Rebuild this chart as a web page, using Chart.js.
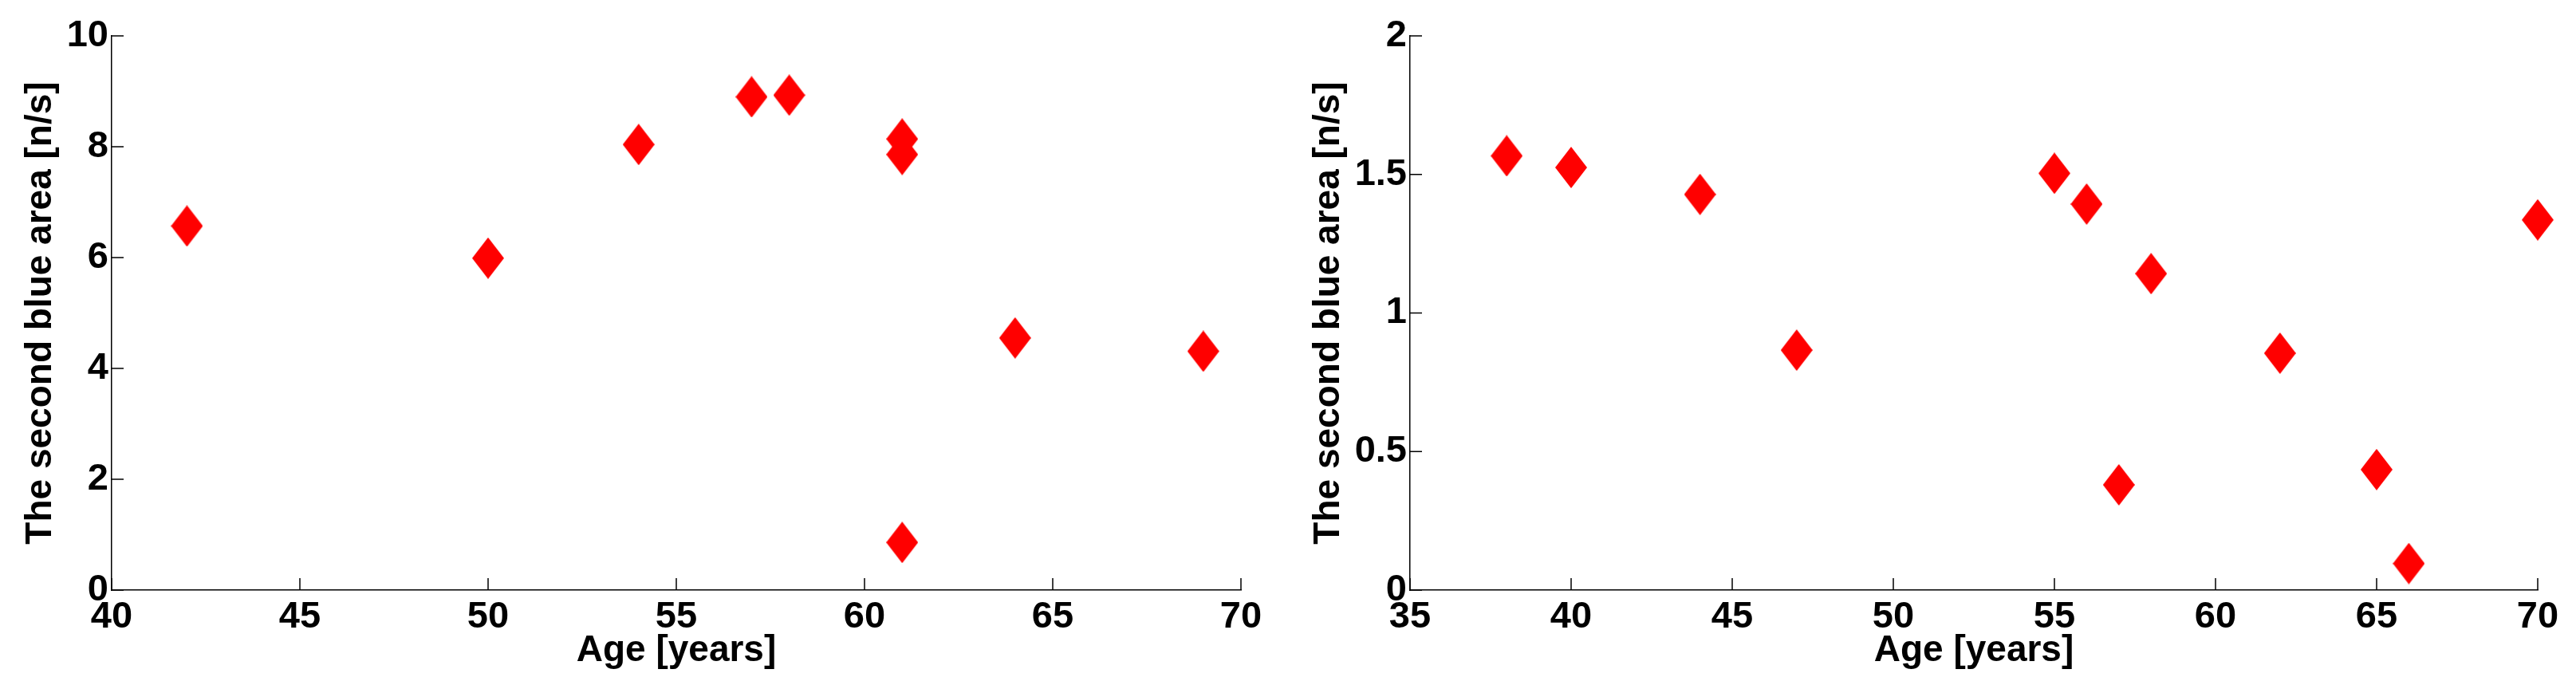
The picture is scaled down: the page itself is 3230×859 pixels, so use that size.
<!DOCTYPE html>
<html>
<head>
<meta charset="utf-8">
<script src="https://cdn.jsdelivr.net/npm/chart.js@4/dist/chart.umd.min.js"></script>
<style>
  html, body { margin: 0; padding: 0; background: #ffffff; }
  #wrap { position: relative; width: 3230px; height: 859px; background: #ffffff; }
  canvas { position: absolute; top: 0; }
</style>
</head>
<body>
<div id="wrap">
  <canvas id="left" width="1615" height="859" style="left:0px"></canvas>
  <canvas id="right" width="1615" height="859" style="left:1615px"></canvas>
</div>
<script>
// ---- data ----
const leftAges   = [42, 50, 54, 57, 58, 61, 61, 61, 64, 69];
const leftValues = [6.57, 5.99, 8.04, 8.90, 8.93, 8.14, 7.86, 0.86, 4.55, 4.31];

const rightAges   = [38, 40, 44, 47, 55, 56, 57, 58, 62, 65, 66, 70];
const rightValues = [1.567, 1.525, 1.428, 0.866, 1.504, 1.393, 0.38, 1.142, 0.855, 0.435, 0.096, 1.336];

const leftXTicks  = [40, 45, 50, 55, 60, 65, 70];
const leftYTicks  = [0, 2, 4, 6, 8, 10];
const rightXTicks = [35, 40, 45, 50, 55, 60, 65, 70];
const rightYTicks = [0, 0.5, 1, 1.5, 2];

const xTitle = 'Age [years]';
const yTitle = 'The second blue area [n/s]';

// ---- styles ----
const FONT = "'Liberation Sans', Arial, Helvetica, sans-serif";

function diamond() {
  const c = document.createElement('canvas');
  c.width = 40; c.height = 52;
  const g = c.getContext('2d');
  g.fillStyle = '#ff0000';
  g.beginPath();
  g.moveTo(20, 0); g.lineTo(40, 26); g.lineTo(20, 52); g.lineTo(0, 26);
  g.closePath(); g.fill();
  return c;
}
const marker = diamond();

const inwardTicks = {
  id: 'inwardTicks',
  afterDraw(chart) {
    const ctx = chart.ctx, a = chart.chartArea;
    const xs = chart.scales.x, ys = chart.scales.y;
    ctx.save();
    ctx.strokeStyle = '#000';
    ctx.lineWidth = 1.5;
    ctx.beginPath();
    xs.ticks.forEach(t => {
      const p = xs.getPixelForValue(t.value);
      ctx.moveTo(p, a.bottom); ctx.lineTo(p, a.bottom - 15);
    });
    ys.ticks.forEach(t => {
      const p = ys.getPixelForValue(t.value);
      ctx.moveTo(a.left, p); ctx.lineTo(a.left + 15, p);
    });
    ctx.stroke();
    ctx.restore();
  }
};

function makeChart(id, xs, ys, xTicks, yTicks, yAxisWidth, rightPad) {
  const pts = xs.map((x, i) => ({ x: x, y: ys[i] }));
  return new Chart(document.getElementById(id), {
    type: 'scatter',
    data: { datasets: [{
      data: pts,
      pointStyle: marker,
      pointRadius: 26,
      pointHoverRadius: 26,
      backgroundColor: '#ff0000',
      borderColor: '#ff0000',
      clip: false
    }]},
    options: {
      responsive: false,
      animation: false,
      devicePixelRatio: 1,
      events: [],
      layout: { padding: { left: 28, right: rightPad, top: 45, bottom: 20 } },
      plugins: { legend: { display: false }, tooltip: { enabled: false } },
      scales: {
        x: {
          type: 'linear',
          min: xTicks[0], max: xTicks[xTicks.length - 1],
          afterBuildTicks: s => { s.ticks = xTicks.map(v => ({ value: v })); },
          afterFit: s => { s.height = 99; },
          grid: { display: false, drawTicks: false },
          border: { display: true, color: '#000', width: 1.5 },
          ticks: {
            color: '#000', padding: 11, maxRotation: 0, autoSkip: false,
            callback: v => String(v),
            font: { family: FONT, size: 47, weight: 'bold', lineHeight: 1 }
          },
          title: {
            display: true, text: xTitle, color: '#000', padding: 0,
            font: { family: FONT, size: 46, weight: 'bold', lineHeight: 1 }
          }
        },
        y: {
          type: 'linear',
          min: yTicks[0], max: yTicks[yTicks.length - 1],
          afterBuildTicks: s => { s.ticks = yTicks.map(v => ({ value: v })); },
          afterFit: s => { s.width = yAxisWidth; },
          grid: { display: false, drawTicks: false },
          border: { display: true, color: '#000', width: 1.5 },
          ticks: {
            color: '#000', padding: 4, autoSkip: false,
            callback: v => String(v),
            font: { family: FONT, size: 47, weight: 'bold', lineHeight: 1 }
          },
          title: {
            display: true, text: yTitle, color: '#000', padding: 0,
            font: { family: FONT, size: 46, weight: 'bold', lineHeight: 1 }
          }
        }
      }
    },
    plugins: [inwardTicks]
  });
}

makeChart('left', leftAges, leftValues, leftXTicks, leftYTicks, 112, 59);
makeChart('right', rightAges, rightValues, rightXTicks, rightYTicks, 125, 48);
</script>
</body>
</html>
